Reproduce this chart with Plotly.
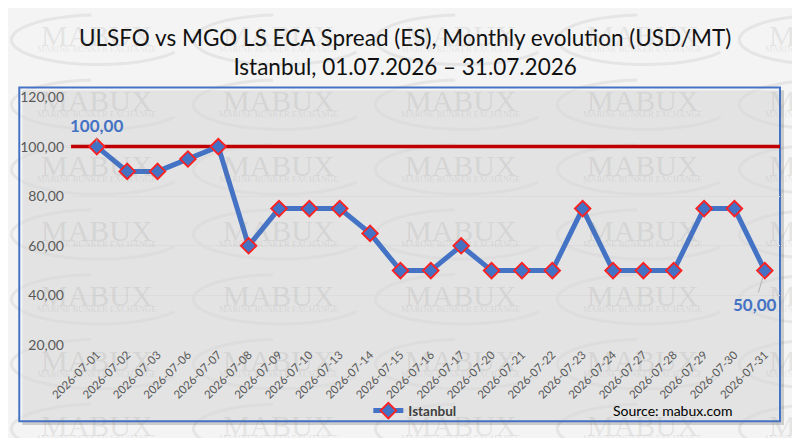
import plotly.graph_objects as go
import numpy as np

# ---- data ----
dates = ["2026-07-01", "2026-07-02", "2026-07-03", "2026-07-06", "2026-07-07",
         "2026-07-08", "2026-07-09", "2026-07-10", "2026-07-13", "2026-07-14",
         "2026-07-15", "2026-07-16", "2026-07-17", "2026-07-20", "2026-07-21",
         "2026-07-22", "2026-07-23", "2026-07-24", "2026-07-27", "2026-07-28",
         "2026-07-29", "2026-07-30", "2026-07-31"]
istanbul = [100, 90, 90, 95, 100, 60, 75, 75, 75, 65, 50, 50, 60, 50, 50, 50,
            75, 50, 50, 50, 75, 75, 50]
threshold = 100
y_ticks = [20, 40, 60, 80, 100, 120]
y_tick_labels = ["20,00", "40,00", "60,00", "80,00", "100,00", "120,00"]
series_name = "Istanbul"

# page has an 8px body margin; size the figure so the page is 800x446
OFF = 8
W, H = 800 - 2 * OFF, 446 - 2 * OFF
PL, PR, PT, PB = 67, 780, 97, 357          # plot area in picture pixels
L, R, T, B = PL - OFF, W - (PR - OFF), PT - OFF, H - (PB - OFF)
PW, PH = PR - PL, PB - PT


def px(x):
    return (x - PL) / PW


def py(y):
    return (PB - y) / PH


FONT = "Lato"
BLUE = "#4472C4"
x_range = [-0.85, len(dates) - 0.5]

fig = go.Figure()

# threshold line across the whole axis
fig.add_trace(go.Scatter(
    x=x_range, y=[threshold, threshold], mode="lines",
    line=dict(color="#C00000", width=3.5), showlegend=False, hoverinfo="skip",
))

fig.add_trace(go.Scatter(
    x=list(range(len(dates))), y=istanbul, name=series_name,
    mode="lines+markers",
    line=dict(color=BLUE, width=5),
    marker=dict(symbol="diamond", size=12, color=BLUE,
                line=dict(color="#FF2020", width=1.8)),
    cliponaxis=False,
))

shapes = []
annotations = []

# watermark tiles (decoration)
wm_col = "rgba(120,120,120,0.15)"
wm_col2 = "rgba(120,120,120,0.12)"
col_x = [-90, 93, 276, 459, 642, 825]
row_y = [33, 101, 169, 237, 305, 373, 441]
t = np.linspace(np.radians(95), np.radians(330), 30)
for cy in row_y:
    for cx in col_x:
        annotations.append(dict(xref="paper", yref="paper", x=px(cx), y=py(cy),
                                text="MABUX", showarrow=False,
                                font=dict(family="Liberation Serif", size=30, color=wm_col),
                                xanchor="center", yanchor="middle"))
        annotations.append(dict(xref="paper", yref="paper", x=px(cx), y=py(cy + 14),
                                text="MARINE BUNKER EXCHANGE", showarrow=False,
                                font=dict(family="Liberation Serif", size=8.5, color=wm_col),
                                xanchor="center", yanchor="middle"))
        xs = cx + 2 + 88 * np.cos(t)
        ys = cy + 4 - 26 * np.sin(t)
        path = "M " + " L ".join(f"{px(a):.4f},{py(b):.4f}" for a, b in zip(xs, ys))
        shapes.append(dict(type="path", xref="paper", yref="paper", path=path,
                           line=dict(color=wm_col2, width=3), layer="below"))

# chart frame with shadow
shapes.append(dict(type="rect", xref="paper", yref="paper",
                   x0=px(18), x1=px(784), y0=py(441), y1=py(90),
                   line=dict(width=0), fillcolor="rgba(0,0,0,0.16)", layer="below"))
shapes.append(dict(type="rect", xref="paper", yref="paper",
                   x0=px(15), x1=px(780), y0=py(437), y1=py(87),
                   line=dict(color=BLUE, width=2), fillcolor="rgba(250,250,250,0.5)",
                   layer="below"))

# data labels
annotations.append(dict(x=0, y=istanbul[0], xref="x", yref="y",
                        text=f"{istanbul[0]:.2f}".replace(".", ","),
                        showarrow=True, arrowhead=0, arrowwidth=0.8, arrowcolor="#A6A6A6",
                        ax=0, ay=-21, standoff=4,
                        font=dict(family=FONT, size=17, color=BLUE, weight="bold")))
annotations.append(dict(x=len(dates) - 1, y=istanbul[-1], xref="x", yref="y",
                        text=f"{istanbul[-1]:.2f}".replace(".", ","),
                        showarrow=True, arrowhead=0, arrowwidth=0.8, arrowcolor="#A6A6A6",
                        ax=-10, ay=34, standoff=6,
                        font=dict(family=FONT, size=17, color=BLUE, weight="bold")))

# source
annotations.append(dict(xref="paper", yref="paper", x=px(672), y=py(426),
                        text="Source: mabux.com", showarrow=False,
                        xanchor="center", yanchor="middle",
                        font=dict(family=FONT, size=14, color="#000000")))

fig.update_layout(
    width=W, height=H,
    margin=dict(l=L, r=R, t=T, b=B),
    paper_bgcolor="#F4F4F4",
    plot_bgcolor="rgba(0,0,0,0)",
    title=dict(text="ULSFO vs MGO LS ECA Spread (ES), Monthly evolution (USD/MT)<br>"
                    "Istanbul, 01.07.2026 \u2013 31.07.2026",
               x=px(403), xref="paper", xanchor="center",
               y=1 - (46 - OFF) / H, yanchor="middle",
               font=dict(family=FONT, size=22.5, color="#111111")),
    xaxis=dict(range=x_range,
               tickvals=list(range(len(dates))), ticktext=dates,
               tickangle=-45, showgrid=False, zeroline=False, showline=False,
               ticks="", tickfont=dict(family=FONT, size=11.5, color="#595959")),
    yaxis=dict(range=[20, 120], tickvals=y_ticks, ticktext=y_tick_labels,
               showgrid=True, gridcolor="#DCDCDC", gridwidth=1, zeroline=False,
               showline=False, ticks="", ticklabelstandoff=6,
               tickfont=dict(family=FONT, size=14, color="#595959")),
    showlegend=True,
    legend=dict(orientation="h", x=px(366), y=py(426), xanchor="left", yanchor="middle",
                bgcolor="rgba(0,0,0,0)",
                font=dict(family=FONT, size=13.5, color="#404040", weight="bold")),
    shapes=shapes,
    annotations=annotations,
)

fig.write_html("out.html")
